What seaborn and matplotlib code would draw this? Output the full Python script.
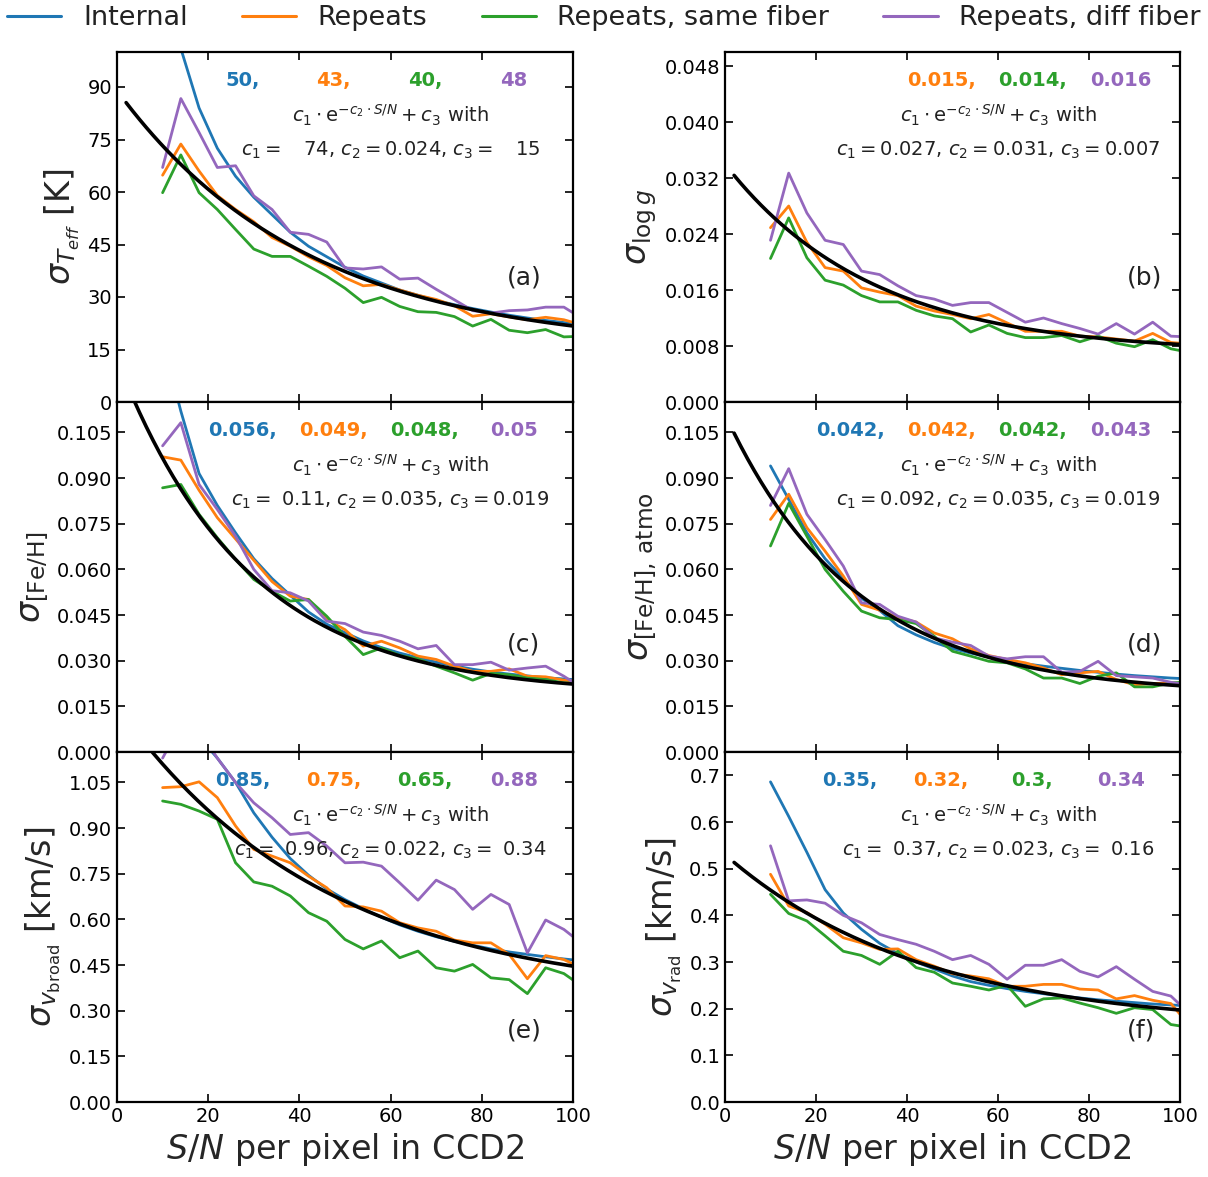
import numpy as np
import pandas as pd
import matplotlib
matplotlib.use("Agg")
import matplotlib.pyplot as plt
import seaborn as sns
from matplotlib.lines import Line2D
from matplotlib.ticker import FixedLocator, FormatStrFormatter

# ---------------- data ----------------
sn = [10, 14, 18, 22, 26, 30, 34, 38, 42, 46, 50, 54, 58, 62, 66, 70, 74, 78, 82, 86, 90, 94, 98, 102]

series_names = ["Internal", "Repeats", "Repeats, same fiber", "Repeats, diff fiber"]
series_colors = ["#1f77b4", "#ff7f0e", "#2ca02c", "#9467bd"]

# (a) Teff
teff_internal = [128, 101, 84, 72.5, 64.5, 58.5, 53.5, 48.5, 44.5, 41.5, 38.5, 36, 34, 32, 30.5, 29, 27.8, 26.7, 25.7, 24.8, 24, 23.3, 22.7, 22.2]
teff_repeats = [64.8, 73.7, 66, 59, 55, 51.5, 47, 44.5, 41.5, 39, 35.5, 33.2, 33.6, 32, 30.5, 29.3, 27.5, 24.5, 25.2, 24.3, 23.5, 24.2, 23.5, 22]
teff_same = [59.8, 70.6, 59.8, 55, 49.3, 43.7, 41.6, 41.6, 38.8, 35.9, 32.5, 28.4, 29.9, 27.3, 25.8, 25.6, 24.4, 21.7, 23.6, 20.5, 19.8, 20.7, 18.6, 18.8]
teff_diff = [67.0, 86.7, 77, 67.0, 67.5, 58.9, 55.0, 48.5, 47.9, 45.7, 38.3, 38.0, 38.6, 35.1, 35.4, 32.2, 29.2, 26.1, 25.4, 26.1, 26.3, 27.1, 27.1, 23.9]

# (b) logg (no internal)
logg_internal = None
logg_repeats = [0.0249, 0.0280, 0.0228, 0.0192, 0.0187, 0.0163, 0.0157, 0.0152, 0.0137, 0.0130, 0.0125, 0.0119, 0.0125, 0.0113, 0.0101, 0.0101, 0.0101, 0.0094, 0.0093, 0.0090, 0.0087, 0.0098, 0.0085, 0.0083]
logg_same = [0.0205, 0.0263, 0.0206, 0.0174, 0.0167, 0.0152, 0.0143, 0.0143, 0.0131, 0.0123, 0.0119, 0.0100, 0.0110, 0.0098, 0.0092, 0.0092, 0.0095, 0.0086, 0.0094, 0.0084, 0.0079, 0.0089, 0.0076, 0.0071]
logg_diff = [0.0231, 0.0327, 0.0270, 0.0231, 0.0225, 0.0187, 0.0182, 0.0166, 0.0152, 0.0147, 0.0138, 0.0142, 0.0142, 0.0128, 0.0114, 0.0120, 0.0112, 0.0105, 0.0097, 0.0112, 0.0097, 0.0114, 0.0094, 0.0093]

# (c) [Fe/H]
feh_internal = [0.135, 0.112, 0.0915, 0.081, 0.072, 0.0635, 0.057, 0.0515, 0.046, 0.042, 0.0392, 0.0365, 0.0343, 0.0325, 0.031, 0.0295, 0.0283, 0.0272, 0.0263, 0.0256, 0.025, 0.0244, 0.024, 0.0236]
feh_repeats = [0.097, 0.0959, 0.086, 0.077, 0.070, 0.063, 0.056, 0.0512, 0.0501, 0.0435, 0.0402, 0.0348, 0.0364, 0.0342, 0.0315, 0.0304, 0.0282, 0.0265, 0.0265, 0.0273, 0.0249, 0.0247, 0.0236, 0.023]
feh_same = [0.0868, 0.0879, 0.0781, 0.0704, 0.0633, 0.0567, 0.0528, 0.0496, 0.0501, 0.0446, 0.038, 0.032, 0.0342, 0.0317, 0.0306, 0.0282, 0.026, 0.0236, 0.0258, 0.0254, 0.0243, 0.0238, 0.0227, 0.0225]
feh_diff = [0.1006, 0.1082, 0.0879, 0.0797, 0.0709, 0.060, 0.053, 0.0523, 0.0496, 0.043, 0.0422, 0.0394, 0.0383, 0.0364, 0.0339, 0.035, 0.0287, 0.0287, 0.0295, 0.0269, 0.0276, 0.0282, 0.0249, 0.021]

# (d) [Fe/H], atmo
fehatm_internal = [0.094, 0.083, 0.072, 0.0635, 0.057, 0.0505, 0.0465, 0.0415, 0.0385, 0.036, 0.034, 0.0325, 0.0312, 0.030, 0.029, 0.0282, 0.0275, 0.0268, 0.0262, 0.0256, 0.0251, 0.0247, 0.0243, 0.024]
fehatm_repeats = [0.0764, 0.0847, 0.0737, 0.066, 0.0578, 0.0485, 0.0466, 0.0441, 0.0427, 0.0391, 0.0372, 0.0339, 0.0317, 0.0304, 0.0293, 0.0276, 0.0254, 0.026, 0.0265, 0.0238, 0.0221, 0.0225, 0.0227, 0.0225]
fehatm_same = [0.0677, 0.0817, 0.0709, 0.060, 0.0528, 0.0463, 0.0441, 0.0435, 0.0422, 0.038, 0.0331, 0.0315, 0.0298, 0.0293, 0.0273, 0.0243, 0.0243, 0.0225, 0.0249, 0.026, 0.0214, 0.0214, 0.0227, 0.023]
fehatm_diff = [0.081, 0.0931, 0.0781, 0.0698, 0.0611, 0.049, 0.0485, 0.0446, 0.0427, 0.0375, 0.0361, 0.035, 0.0315, 0.0306, 0.0313, 0.0313, 0.0262, 0.0265, 0.0298, 0.0251, 0.0247, 0.0243, 0.0229, 0.022]

# (e) v_broad
vb_internal = [1.5, 1.3, 1.2, 1.13, 1.05, 0.95, 0.87, 0.80, 0.745, 0.70, 0.665, 0.635, 0.607, 0.582, 0.561, 0.543, 0.528, 0.515, 0.503, 0.493, 0.485, 0.477, 0.47, 0.464]
vb_repeats = [1.033, 1.036, 1.052, 1.0, 0.907, 0.83, 0.808, 0.786, 0.742, 0.704, 0.644, 0.641, 0.627, 0.589, 0.572, 0.561, 0.532, 0.523, 0.523, 0.485, 0.405, 0.481, 0.468, 0.44]
vb_same = [0.989, 0.978, 0.956, 0.929, 0.786, 0.723, 0.709, 0.677, 0.622, 0.594, 0.534, 0.503, 0.529, 0.474, 0.496, 0.441, 0.43, 0.452, 0.408, 0.402, 0.356, 0.441, 0.422, 0.38]
vb_diff = [1.13, 1.24, 1.22, 1.13, 1.05, 0.983, 0.934, 0.879, 0.885, 0.841, 0.786, 0.788, 0.775, 0.72, 0.663, 0.729, 0.698, 0.633, 0.682, 0.649, 0.49, 0.598, 0.567, 0.52]

# (f) v_rad
vr_internal = [0.686, 0.612, 0.535, 0.455, 0.405, 0.37, 0.34, 0.318, 0.30, 0.285, 0.27, 0.258, 0.25, 0.243, 0.237, 0.232, 0.227, 0.223, 0.219, 0.216, 0.213, 0.21, 0.208, 0.206]
vr_repeats = [0.488, 0.42, 0.406, 0.381, 0.352, 0.341, 0.327, 0.328, 0.305, 0.291, 0.275, 0.27, 0.264, 0.248, 0.248, 0.252, 0.252, 0.242, 0.24, 0.221, 0.228, 0.218, 0.211, 0.165]
vr_same = [0.445, 0.404, 0.388, 0.356, 0.323, 0.314, 0.295, 0.323, 0.288, 0.278, 0.255, 0.248, 0.24, 0.25, 0.205, 0.221, 0.223, 0.212, 0.202, 0.19, 0.202, 0.198, 0.166, 0.16]
vr_diff = [0.549, 0.431, 0.433, 0.426, 0.40, 0.384, 0.359, 0.348, 0.338, 0.323, 0.305, 0.314, 0.295, 0.263, 0.293, 0.293, 0.305, 0.28, 0.268, 0.29, 0.263, 0.237, 0.227, 0.19]

# fit parameters  c1 * exp(-c2 * S/N) + c3
fit_c1 = [74, 0.027, 0.11, 0.092, 0.96, 0.37]
fit_c2 = [0.024, 0.031, 0.035, 0.035, 0.022, 0.023]
fit_c3 = [15, 0.007, 0.019, 0.019, 0.34, 0.16]

# summary numbers printed in colour
sum_internal = ["50", None, "0.056", "0.042", "0.85", "0.35"]
sum_repeats = ["43", "0.015", "0.049", "0.042", "0.75", "0.32"]
sum_same = ["40", "0.014", "0.048", "0.042", "0.65", "0.3"]
sum_diff = ["48", "0.016", "0.05", "0.043", "0.88", "0.34"]

panel_tags = ["(a)", "(b)", "(c)", "(d)", "(e)", "(f)"]
ylabels = [r"$\sigma_{T_{eff}}$ [K]", r"$\sigma_{\log g}$", r"$\sigma_{\rm [Fe/H]}$",
           r"$\sigma_{\rm [Fe/H],\,atmo}$", r"$\sigma_{v_{\rm broad}}$ [km/s]", r"$\sigma_{v_{\rm rad}}$ [km/s]"]
yticks_list = [[0, 15, 30, 45, 60, 75, 90],
               [0.000, 0.008, 0.016, 0.024, 0.032, 0.040, 0.048],
               [0.000, 0.015, 0.030, 0.045, 0.060, 0.075, 0.090, 0.105],
               [0.000, 0.015, 0.030, 0.045, 0.060, 0.075, 0.090, 0.105],
               [0.00, 0.15, 0.30, 0.45, 0.60, 0.75, 0.90, 1.05],
               [0.0, 0.1, 0.2, 0.3, 0.4, 0.5, 0.6, 0.7]]
ytick_fmt = ["%d", "%.3f", "%.3f", "%.3f", "%.2f", "%.1f"]
ylims = [100, 0.05, 0.115, 0.115, 1.15, 0.75]
xticks = [0, 20, 40, 60, 80, 100]

panels = [
    (teff_internal, teff_repeats, teff_same, teff_diff),
    (logg_internal, logg_repeats, logg_same, logg_diff),
    (feh_internal, feh_repeats, feh_same, feh_diff),
    (fehatm_internal, fehatm_repeats, fehatm_same, fehatm_diff),
    (vb_internal, vb_repeats, vb_same, vb_diff),
    (vr_internal, vr_repeats, vr_same, vr_diff),
]
summaries = list(zip(sum_internal, sum_repeats, sum_same, sum_diff))

# ---------------- style ----------------
sns.set_theme(style="ticks")
plt.rcParams.update({
    "font.family": ["DejaVu Sans"],
    "mathtext.fontset": "dejavusans",
    "xtick.direction": "in",
    "ytick.direction": "in",
    "xtick.top": True,
    "ytick.right": True,
    "xtick.major.size": 6,
    "ytick.major.size": 6,
    "xtick.major.width": 1.2,
    "ytick.major.width": 1.2,
    "axes.linewidth": 1.6,
    "axes.edgecolor": "black",
    "xtick.color": "black",
    "ytick.color": "black",
    "xtick.labelsize": 14,
    "ytick.labelsize": 14,
    "axes.labelsize": 24,
    "text.color": "#222222",
})

W, H = 1208, 1177
fig = plt.figure(figsize=(W / 100, H / 100), dpi=100)

col_left = [117 / W, 725 / W]
col_width = [456 / W, 455 / W]
row_h = 350 / H
row_bottom = [1 - 402 / H, 1 - 752 / H, 1 - 1102 / H]
tag_x = [0.855, 0.883]
tag_y = [0.357, 0.306, 0.203]
num_x = [0.275, 0.475, 0.675, 0.87]

palette = dict(zip(series_names, series_colors))
xfit = np.linspace(2, 100, 200)

for i, (series, summ) in enumerate(zip(panels, summaries)):
    r, c = divmod(i, 2)
    ax = fig.add_axes([col_left[c], row_bottom[r], col_width[c], row_h])

    frames = []
    for name, vals in zip(series_names, series):
        if vals is None:
            continue
        frames.append(pd.DataFrame({"sn": sn, "sigma": vals, "source": name}))
    df = pd.concat(frames, ignore_index=True)
    sns.lineplot(data=df, x="sn", y="sigma", hue="source",
                 hue_order=[n for n, v in zip(series_names, series) if v is not None],
                 palette=palette, linewidth=2.0, legend=False, ax=ax, sort=True)

    yfit = fit_c1[i] * np.exp(-fit_c2[i] * xfit) + fit_c3[i]
    sns.lineplot(x=xfit, y=yfit, color="black", linewidth=2.6, ax=ax)

    ax.set_xlim(0, 100)
    ax.set_ylim(0, ylims[i])
    ax.yaxis.set_major_locator(FixedLocator(yticks_list[i]))
    ax.yaxis.set_major_formatter(FormatStrFormatter(ytick_fmt[i]))
    ax.xaxis.set_major_locator(FixedLocator(xticks))
    ax.set_ylabel(ylabels[i])
    if r == 2:
        ax.set_xlabel(r"$S/N$ per pixel in CCD2", fontsize=24)
    else:
        ax.set_xlabel("")
        ax.tick_params(labelbottom=False)
    ax.tick_params(which="both", top=True, right=True, direction="in")

    # coloured summary numbers
    for k, (val, col) in enumerate(zip(summ, series_colors)):
        if val is None:
            continue
        txt = val + ("," if k < 3 else "")
        ax.text(num_x[k], 0.918, txt, color=col, fontsize=14, fontweight="bold",
                ha="center", va="center", transform=ax.transAxes)

    ax.text(0.6, 0.82, r"$c_1 \cdot \mathrm{e}^{-c_2 \cdot S/N} + c_3$ with",
            fontsize=14, ha="center", va="center", transform=ax.transAxes)
    ptxt = (r"$c_1 = $" + "{:>5}".format(fit_c1[i]) + r", $c_2 = $" + "{}".format(fit_c2[i])
            + r", $c_3 = $" + "{:>5}".format(fit_c3[i]))
    ax.text(0.6, 0.72, ptxt, fontsize=14, ha="center", va="center", transform=ax.transAxes)

    ax.text(tag_x[c], tag_y[r], panel_tags[i], fontsize=18, ha="left", va="center",
            transform=ax.transAxes)

handles = [Line2D([0], [0], color=col, lw=2.2) for col in series_colors]
fig.legend(handles, series_names, loc="center", bbox_to_anchor=(0.5, 1 - 18 / H), ncol=4,
           frameon=False, fontsize=19.5, handlelength=2.0, handletextpad=0.8,
           columnspacing=2.0, borderaxespad=0)

fig.savefig("out.png", dpi=100)
